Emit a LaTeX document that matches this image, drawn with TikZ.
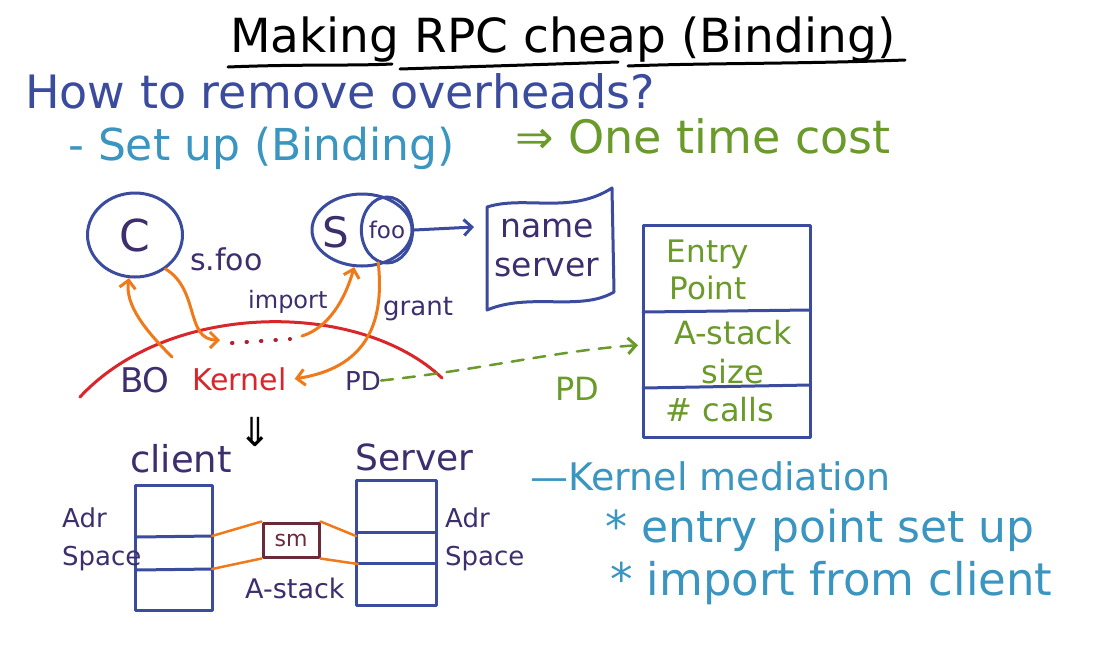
\documentclass[tikz,border=0pt]{standalone}
\usepackage{fontspec}
\setmainfont{DejaVu Sans}
\usetikzlibrary{shapes.geometric,arrows.meta}
\definecolor{ink}{HTML}{3B4C9E}
\definecolor{indigo}{HTML}{3D2F6E}
\definecolor{sky}{HTML}{3A95C0}
\definecolor{leaf}{HTML}{6A9A2A}
\definecolor{kred}{HTML}{D9262A}
\definecolor{dred}{HTML}{B02030}
\definecolor{orng}{HTML}{F07A1A}
\definecolor{smcol}{HTML}{6B2A3A}
\newcommand\fsz[1]{\fontsize{#1}{\dimexpr #1pt*6/5\relax}\selectfont}
\begin{document}
\begin{tikzpicture}[x=1pt,y=-1pt,
  lbl/.style={inner sep=0pt, anchor=base west},
  stroke/.style={line width=3pt, line cap=round, line join=round},
  thin/.style={line width=2.5pt, line cap=round, line join=round},
  tip/.style={-{Straight Barb[length=8pt,width=16pt,line width=3pt]}}]
\useasboundingbox (0,0) rectangle (1118,649);
\fill[white] (0,0) rectangle (1118,649);

% title
\node[lbl, font=\fsz{47}, text=black] (title) at (230,52) {Making RPC cheap (Binding)};
\draw[stroke, black] (228,67) .. controls (300,64) and (350,66) .. (392,64);
\draw[stroke, black] (400,69) -- (618,62);
\draw[stroke, black] (628,66) .. controls (700,63) and (800,64) .. (905,60);

% headings
\node[lbl, font=\fsz{46}, text=ink] (how) at (25,108) {How to remove overheads?};
\node[lbl, font=\fsz{44}, text=sky] (setup) at (68,160) {- Set up (Binding)};
\node[lbl, font=\fsz{46}, text=leaf] (cost) at (515,153) {⇒ One time cost};

% C and S
\node[ellipse, draw=ink, stroke, minimum width=95pt, minimum height=84pt, inner sep=0pt,
      font=\fsz{44}, text=indigo] (C) at (135,235) {C};
\node[ellipse, draw=ink, stroke, minimum width=100pt, minimum height=72pt, inner sep=0pt] (S) at (362,230) {};
\node[font=\fsz{42}, text=indigo, inner sep=0pt] (Slbl) at (336,232) {S};
\node[ellipse, draw=ink, stroke, minimum width=50pt, minimum height=66pt, inner sep=0pt,
      font=\fsz{23}, text=indigo] (foo) at (387,230) {foo};

% name server
\node[font=\fsz{33}, text=indigo, align=center, inner sep=0pt] (NS) at (547,248) {name\\server};
\draw[stroke, ink] (487,207) .. controls (525,195) and (570,215) .. (612,188)
   -- (614,292) .. controls (580,312) and (530,292) .. (487,310) -- cycle;
\coordinate (nsl) at (474,227);
\draw[stroke, ink, tip] (foo.east) -- (nsl);

% PD table
\node[draw=ink, stroke, minimum width=167pt, minimum height=212pt, inner sep=0pt] (PDT) at (727,331) {};
\draw[stroke, ink] (643,312) -- (810,310);
\draw[stroke, ink] (643,388) -- (810,385);
\node[font=\fsz{31}, text=leaf, align=center, inner sep=0pt] (entry) at (708,270) {Entry\\Point};
\node[font=\fsz{32}, text=leaf, align=center, inner sep=0pt] (astk) at (733,352) {A-stack\\size};
\node[font=\fsz{32}, text=leaf, inner sep=0pt] (calls) at (720,410) {\# calls};

% labels
\node[lbl, font=\fsz{30}, text=indigo] (sfoo) at (190,270) {s.foo};
\node[lbl, font=\fsz{24}, text=indigo] (import) at (248,308) {import};
\node[lbl, font=\fsz{26}, text=indigo] (grant) at (383,315) {grant};
\node[lbl, font=\fsz{34}, text=indigo] (BO) at (120,392) {BO};
\node[lbl, font=\fsz{30}, text=kred] (Kernel) at (192,390) {Kernel};
\node[lbl, font=\fsz{26}, text=indigo] (PD) at (345,390) {PD};
\node[lbl, font=\fsz{32}, text=leaf] (PD2) at (555,400) {PD};

% kernel arc
\draw[stroke, kred] (80,397) .. controls (170,300) and (360,300) .. (442,378);

% dots
\coordinate (d0) at (220,340);
\coordinate (d1) at (232,343);
\coordinate (d2) at (290,339);
\coordinate (d3) at (302,336);
\draw[dred, line width=4pt, line cap=round, dash pattern=on 0.5pt off 14pt] (d1) -- (d2);

% orange arrows
\coordinate (a1s) at (172,357);
\draw[stroke, orng, tip] (a1s) .. controls (145,330) and (125,305) .. (C.262);
\draw[stroke, orng, tip] (C.312) .. controls (200,290) and (185,340) .. (d0);
\draw[stroke, orng, tip] (d3) .. controls (328,328) and (345,300) .. (S.258);
\draw[stroke, orng, tip] (foo.255) .. controls (385,325) and (365,368) .. ([xshift=8pt]Kernel.east);

% green dashed
\draw[thin, leaf, dash pattern=on 12pt off 10pt, tip, shorten >=4pt] (PD.east) .. controls (480,370) and (560,350) .. ([yshift=-14pt]PDT.west);

% down arrow
\node[font=\fsz{40}, text=black, inner sep=0pt] (dn) at (255,432) {⇓};

% bottom
\node[lbl, font=\fsz{37}, text=indigo] (client) at (130,472) {client};
\node[lbl, font=\fsz{36}, text=indigo] (server) at (355,470) {Server};
\node[draw=ink, stroke, minimum width=77pt, minimum height=125pt, inner sep=0pt] (CB) at (174,548) {};
\draw[stroke, ink] (136,537) -- (212,536);
\draw[stroke, ink] (136,570) -- (212,569);
\node[draw=ink, stroke, minimum width=80pt, minimum height=125pt, inner sep=0pt] (SB) at (396,543) {};
\draw[stroke, ink] (356,532) -- (436,532);
\draw[stroke, ink] (356,563) -- (436,563);
\node[lbl, font=\fsz{26}, text=indigo] (adr1) at (62,527) {Adr};
\node[lbl, font=\fsz{26}, text=indigo] (sp1) at (62,565) {Space};
\node[lbl, font=\fsz{26}, text=indigo] (adr2) at (445,527) {Adr};
\node[lbl, font=\fsz{26}, text=indigo] (sp2) at (445,565) {Space};
\node[draw=smcol, stroke, minimum width=56pt, minimum height=34pt, inner sep=0pt,
      font=\fsz{22}, text=smcol] (SM) at (291,540) {sm};
\node[lbl, font=\fsz{27}, text=indigo] (ast) at (245,598) {A-stack};
\coordinate (c1) at (212,536);
\coordinate (c2) at (212,569);
\coordinate (s1) at (356,536);
\coordinate (s2) at (358,564);
\draw[thin, orng] (c1) -- (SM.north west);
\draw[thin, orng] (c2) -- (SM.south west);
\draw[thin, orng] (SM.north east) -- (s1);
\draw[thin, orng] (SM.south east) -- (s2);

% right text
\node[lbl, font=\fsz{38}, text=sky] (med) at (530,490) {—Kernel mediation};
\node[lbl, font=\fsz{44}, text=sky] (ep) at (605,542) {* entry point set up};
\node[lbl, font=\fsz{45}, text=sky] (imp) at (610,595) {* import from client};
\end{tikzpicture}
\end{document}
